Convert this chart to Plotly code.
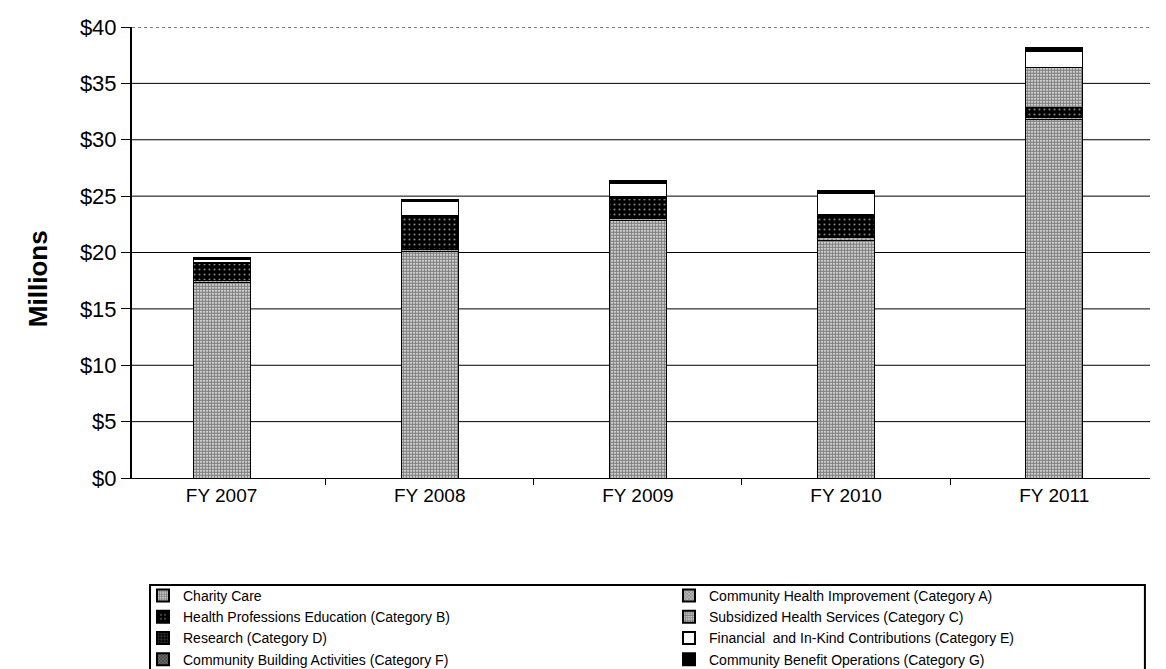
import plotly.graph_objects as go

years = ["FY 2007", "FY 2008", "FY 2009", "FY 2010", "FY 2011"]

charity_care = [17.3, 20.1, 22.8, 21.1, 31.8]
community_health_improvement = [0.2, 0.2, 0.2, 0.2, 0.2]
health_professions_education = [1.5, 2.8, 1.8, 1.9, 0.9]
subsidized_health_services = [0.05, 0.1, 0.1, 0.1, 3.5]
research = [0.05, 0.05, 0.05, 0.05, 0.05]
financial_contributions = [0.3, 1.3, 1.2, 1.9, 1.4]
community_building = [0.02, 0.02, 0.02, 0.02, 0.02]
community_benefit_operations = [0.1, 0.1, 0.25, 0.25, 0.3]

y_ticks = [0, 5, 10, 15, 20, 25, 30, 35, 40]
y_tick_labels = ["$0", "$5", "$10", "$15", "$20", "$25", "$30", "$35", "$40"]

# (name, values, marker style, legend column)
series = [
    ("Charity Care", charity_care, dict(color="white", pattern=dict(shape=".", fgcolor="black", bgcolor="white", size=3, solidity=0.72)), "legend"),
    ("Community Health Improvement (Category A)", community_health_improvement, dict(color="#888", pattern=dict(shape="x", fgcolor="black", bgcolor="#bbb", size=3, solidity=0.3)), "legend2"),
    ("Health Professions Education (Category B)", health_professions_education, dict(color="black", pattern=dict(shape=".", fgcolor="white", bgcolor="black", size=5, solidity=0.15)), "legend"),
    ("Subsidized Health Services (Category C)", subsidized_health_services, dict(color="white", pattern=dict(shape=".", fgcolor="black", bgcolor="white", size=3, solidity=0.72)), "legend2"),
    ("Research (Category D)", research, dict(color="black", pattern=dict(shape="+", fgcolor="white", bgcolor="black", size=4, solidity=0.2)), "legend"),
    ("Financial  and In-Kind Contributions (Category E)", financial_contributions, dict(color="white"), "legend2"),
    ("Community Building Activities (Category F)", community_building, dict(color="#666", pattern=dict(shape="x", fgcolor="white", bgcolor="#444", size=3, solidity=0.3)), "legend"),
    ("Community Benefit Operations (Category G)", community_benefit_operations, dict(color="black"), "legend2"),
]

fig = go.Figure()
for name, vals, mk, leg in series:
    marker = dict(mk)
    marker["line"] = dict(color="black", width=1)
    fig.add_trace(go.Bar(name=name, x=years, y=vals, marker=marker, width=0.274, legend=leg))

shapes = []
for t in y_ticks[1:]:
    shapes.append(dict(type="line", xref="paper", x0=0, x1=1, yref="y", y0=t, y1=t,
                       line=dict(color="black", width=1, dash="dot" if t == 40 else "solid"),
                       layer="below"))
# legend frame
shapes.append(dict(type="rect", xref="paper", yref="paper", x0=0.0177, x1=0.995, y0=-0.237, y1=-0.6,
                   line=dict(color="black", width=2), fillcolor="rgba(0,0,0,0)"))

legend_common = dict(orientation="v", xanchor="left", yanchor="top", y=-0.226,
                     traceorder="normal", bgcolor="rgba(0,0,0,0)", borderwidth=0,
                     font=dict(size=14), itemsizing="constant", tracegroupgap=0)

fig.update_layout(
    barmode="stack",
    width=1150, height=661,
    margin=dict(l=124, r=8, t=19, b=191, autoexpand=False),
    paper_bgcolor="white", plot_bgcolor="white",
    font=dict(family="Liberation Sans, Arial, sans-serif", color="black"),
    shapes=shapes,
    xaxis=dict(range=[-0.43, 4.46], showline=True, linecolor="black", linewidth=1,
               ticks="outside", tickson="boundaries", ticklen=6, tickcolor="black",
               tickfont=dict(size=19), showgrid=False),
    yaxis=dict(range=[0, 40], tickvals=y_ticks, ticktext=y_tick_labels, showgrid=False,
               showline=True, linecolor="black", linewidth=2, ticks="outside", ticklen=9,
               tickcolor="black", tickfont=dict(size=22), zeroline=False),
    annotations=[dict(text="<b>Millions</b>", textangle=-90, xref="paper", yref="paper",
                      x=-0.0923, y=0.441, xanchor="center", yanchor="middle",
                      showarrow=False, font=dict(size=26))],
    legend=dict(x=0.0108, **legend_common),
    legend2=dict(x=0.5275, **legend_common),
    showlegend=True,
    bargap=0.726,
)

fig.write_html("out.html")
